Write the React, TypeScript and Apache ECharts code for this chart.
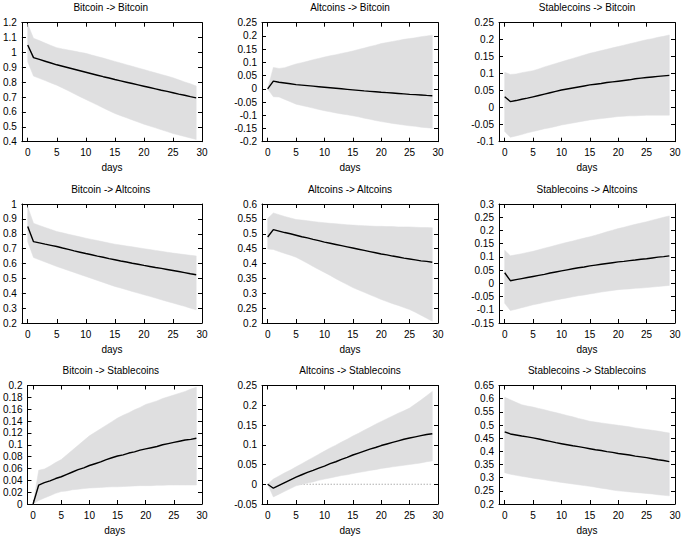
import React, { useEffect, useRef } from "react";
import * as echarts from "echarts";

const days = Array.from({ length: 30 }, (_, i) => i);
const xTickValues = [0, 5, 10, 15, 20, 25, 30];

const titles = [
  "Bitcoin -> Bitcoin", "Altcoins -> Bitcoin", "Stablecoins -> Bitcoin",
  "Bitcoin -> Altcoins", "Altcoins -> Altcoins", "Stablecoins -> Altcoins",
  "Bitcoin -> Stablecoins", "Altcoins -> Stablecoins", "Stablecoins -> Stablecoins",
];
const yMins = [0.4, -0.2, -0.1, 0.2, 0.2, -0.15, 0, -0.05, 0.2];
const yMaxs = [1.2, 0.25, 0.25, 1.0, 0.6, 0.3, 0.2, 0.25, 0.65];
const yIntervals = [0.1, 0.05, 0.05, 0.1, 0.05, 0.05, 0.02, 0.05, 0.05];

// Bitcoin -> Bitcoin
const btcBtcIrf = [1.05, 0.965, 0.953, 0.941, 0.929, 0.917, 0.907, 0.897, 0.887, 0.877, 0.867, 0.857, 0.847, 0.837, 0.828, 0.818, 0.809, 0.8, 0.791, 0.782, 0.773, 0.764, 0.755, 0.746, 0.738, 0.729, 0.72, 0.712, 0.703, 0.695];
const btcBtcUpper = [1.19, 1.095, 1.08, 1.063, 1.047, 1.032, 1.024, 1.016, 1.009, 1.001, 0.994, 0.983, 0.972, 0.962, 0.951, 0.94, 0.929, 0.918, 0.907, 0.896, 0.885, 0.874, 0.863, 0.852, 0.841, 0.83, 0.816, 0.802, 0.789, 0.775];
const btcBtcLower = [0.937, 0.841, 0.826, 0.811, 0.795, 0.78, 0.761, 0.742, 0.722, 0.703, 0.684, 0.665, 0.646, 0.627, 0.608, 0.59, 0.575, 0.561, 0.546, 0.532, 0.518, 0.505, 0.493, 0.48, 0.468, 0.455, 0.445, 0.435, 0.425, 0.415];

// Altcoins -> Bitcoin
const altBtcIrf = [0, 0.029, 0.025, 0.022, 0.019, 0.016, 0.014, 0.012, 0.01, 0.008, 0.006, 0.004, 0.002, 0, -0.002, -0.004, -0.006, -0.008, -0.0095, -0.011, -0.013, -0.0145, -0.016, -0.0175, -0.019, -0.021, -0.022, -0.0235, -0.025, -0.026];
const altBtcUpper = [0, 0.081, 0.077, 0.08, 0.087, 0.094, 0.099, 0.104, 0.11, 0.115, 0.12, 0.125, 0.129, 0.134, 0.138, 0.143, 0.149, 0.154, 0.16, 0.165, 0.171, 0.175, 0.179, 0.183, 0.187, 0.19, 0.193, 0.197, 0.2, 0.203];
const altBtcLower = [0, -0.03, -0.031, -0.04, -0.049, -0.058, -0.063, -0.068, -0.073, -0.078, -0.083, -0.087, -0.091, -0.095, -0.098, -0.102, -0.106, -0.111, -0.115, -0.12, -0.124, -0.127, -0.131, -0.134, -0.137, -0.14, -0.142, -0.145, -0.147, -0.149];

// Stablecoins -> Bitcoin
const stbBtcIrf = [0.032, 0.018, 0.021, 0.025, 0.028, 0.032, 0.036, 0.04, 0.044, 0.048, 0.052, 0.055, 0.058, 0.061, 0.064, 0.067, 0.069, 0.071, 0.074, 0.076, 0.078, 0.08, 0.082, 0.085, 0.087, 0.089, 0.0905, 0.092, 0.0935, 0.095];
const stbBtcUpper = [0.104, 0.098, 0.099, 0.103, 0.106, 0.109, 0.114, 0.12, 0.125, 0.13, 0.135, 0.14, 0.145, 0.15, 0.155, 0.16, 0.164, 0.168, 0.172, 0.176, 0.18, 0.184, 0.188, 0.192, 0.196, 0.2, 0.203, 0.207, 0.21, 0.214];
const stbBtcLower = [-0.07, -0.087, -0.083, -0.079, -0.074, -0.07, -0.066, -0.062, -0.059, -0.055, -0.051, -0.048, -0.045, -0.042, -0.039, -0.036, -0.034, -0.032, -0.03, -0.028, -0.026, -0.025, -0.024, -0.024, -0.023, -0.022, -0.022, -0.022, -0.022, -0.022];

// Bitcoin -> Altcoins
const btcAltIrf = [0.848, 0.747, 0.739, 0.73, 0.722, 0.714, 0.704, 0.695, 0.685, 0.676, 0.667, 0.659, 0.65, 0.642, 0.633, 0.625, 0.617, 0.61, 0.602, 0.595, 0.587, 0.58, 0.573, 0.567, 0.56, 0.553, 0.546, 0.539, 0.531, 0.524];
const btcAltUpper = [0.982, 0.87, 0.856, 0.842, 0.829, 0.815, 0.806, 0.797, 0.788, 0.779, 0.77, 0.762, 0.754, 0.746, 0.738, 0.73, 0.724, 0.718, 0.712, 0.706, 0.7, 0.694, 0.688, 0.682, 0.676, 0.67, 0.665, 0.66, 0.655, 0.651];
const btcAltLower = [0.747, 0.64, 0.625, 0.61, 0.595, 0.58, 0.567, 0.553, 0.54, 0.526, 0.513, 0.5, 0.486, 0.473, 0.459, 0.446, 0.435, 0.424, 0.412, 0.401, 0.39, 0.379, 0.368, 0.356, 0.345, 0.334, 0.323, 0.312, 0.3, 0.289];

// Altcoins -> Altcoins
const altAltIrf = [0.489, 0.514, 0.509, 0.504, 0.5, 0.495, 0.49, 0.486, 0.481, 0.477, 0.472, 0.468, 0.464, 0.46, 0.456, 0.452, 0.448, 0.444, 0.44, 0.436, 0.432, 0.429, 0.425, 0.422, 0.418, 0.415, 0.412, 0.409, 0.407, 0.404];
const altAltUpper = [0.551, 0.57, 0.564, 0.558, 0.553, 0.548, 0.546, 0.544, 0.541, 0.539, 0.537, 0.535, 0.534, 0.532, 0.53, 0.529, 0.528, 0.527, 0.526, 0.525, 0.525, 0.524, 0.524, 0.523, 0.523, 0.523, 0.522, 0.521, 0.521, 0.52];
const altAltLower = [0.449, 0.447, 0.44, 0.434, 0.428, 0.421, 0.411, 0.401, 0.39, 0.38, 0.37, 0.36, 0.349, 0.339, 0.329, 0.319, 0.311, 0.303, 0.295, 0.287, 0.279, 0.272, 0.265, 0.259, 0.252, 0.245, 0.236, 0.226, 0.216, 0.206];

// Stablecoins -> Altcoins
const stbAltIrf = [0.04, 0.01, 0.014, 0.018, 0.022, 0.026, 0.03, 0.034, 0.039, 0.043, 0.047, 0.051, 0.055, 0.059, 0.062, 0.066, 0.069, 0.072, 0.075, 0.078, 0.081, 0.083, 0.086, 0.088, 0.091, 0.093, 0.096, 0.099, 0.101, 0.104];
const stbAltUpper = [0.125, 0.104, 0.108, 0.112, 0.117, 0.121, 0.127, 0.133, 0.138, 0.144, 0.15, 0.155, 0.16, 0.166, 0.171, 0.176, 0.182, 0.188, 0.195, 0.201, 0.207, 0.212, 0.218, 0.223, 0.228, 0.233, 0.239, 0.244, 0.25, 0.255];
const stbAltLower = [-0.075, -0.103, -0.098, -0.092, -0.087, -0.081, -0.077, -0.072, -0.068, -0.063, -0.059, -0.055, -0.051, -0.047, -0.044, -0.04, -0.037, -0.033, -0.03, -0.027, -0.024, -0.022, -0.021, -0.019, -0.018, -0.016, -0.014, -0.012, -0.01, -0.008];

// Bitcoin -> Stablecoins
const btcStbIrf = [0, 0.032, 0.036, 0.039, 0.043, 0.046, 0.05, 0.054, 0.058, 0.061, 0.065, 0.068, 0.071, 0.075, 0.078, 0.081, 0.083, 0.086, 0.088, 0.091, 0.093, 0.095, 0.097, 0.1, 0.102, 0.104, 0.106, 0.108, 0.109, 0.111];
const btcStbUpper = [0, 0.057, 0.059, 0.064, 0.07, 0.075, 0.083, 0.091, 0.099, 0.107, 0.115, 0.121, 0.127, 0.133, 0.139, 0.145, 0.15, 0.154, 0.159, 0.163, 0.168, 0.171, 0.174, 0.178, 0.181, 0.184, 0.187, 0.19, 0.194, 0.197];
const btcStbLower = [0, 0.006, 0.01, 0.014, 0.018, 0.021, 0.022, 0.024, 0.025, 0.026, 0.027, 0.0275, 0.028, 0.0285, 0.029, 0.029, 0.0295, 0.03, 0.0305, 0.031, 0.031, 0.031, 0.0315, 0.0315, 0.032, 0.032, 0.032, 0.032, 0.032, 0.032];

// Altcoins -> Stablecoins
const altStbIrf = [0, -0.01, -0.003, 0.004, 0.011, 0.018, 0.024, 0.03, 0.035, 0.041, 0.046, 0.052, 0.057, 0.063, 0.068, 0.074, 0.079, 0.084, 0.089, 0.093, 0.098, 0.102, 0.106, 0.11, 0.114, 0.117, 0.12, 0.123, 0.126, 0.128];
const altStbUpper = [0, 0.013, 0.021, 0.029, 0.036, 0.044, 0.052, 0.06, 0.068, 0.076, 0.084, 0.092, 0.099, 0.107, 0.114, 0.122, 0.129, 0.137, 0.144, 0.152, 0.159, 0.166, 0.173, 0.18, 0.186, 0.193, 0.203, 0.213, 0.224, 0.235];
const altStbLower = [0, -0.032, -0.025, -0.018, -0.011, -0.004, -0.0005, 0.003, 0.006, 0.01, 0.013, 0.016, 0.019, 0.022, 0.024, 0.027, 0.03, 0.032, 0.035, 0.037, 0.04, 0.042, 0.044, 0.046, 0.048, 0.05, 0.052, 0.054, 0.057, 0.059];

// Stablecoins -> Stablecoins
const stbStbIrf = [0.474, 0.466, 0.462, 0.458, 0.455, 0.451, 0.447, 0.442, 0.438, 0.433, 0.429, 0.425, 0.421, 0.418, 0.414, 0.41, 0.406, 0.403, 0.399, 0.396, 0.392, 0.389, 0.386, 0.382, 0.379, 0.376, 0.372, 0.368, 0.365, 0.361];
const stbStbUpper = [0.605, 0.596, 0.586, 0.577, 0.572, 0.568, 0.563, 0.558, 0.552, 0.547, 0.542, 0.536, 0.531, 0.525, 0.52, 0.514, 0.511, 0.508, 0.505, 0.502, 0.499, 0.496, 0.493, 0.489, 0.486, 0.483, 0.48, 0.477, 0.473, 0.47];
const stbStbLower = [0.319, 0.313, 0.309, 0.305, 0.302, 0.298, 0.295, 0.292, 0.288, 0.285, 0.282, 0.279, 0.276, 0.273, 0.27, 0.267, 0.264, 0.26, 0.257, 0.253, 0.25, 0.248, 0.246, 0.244, 0.242, 0.24, 0.238, 0.235, 0.233, 0.231];

const irfs = [btcBtcIrf, altBtcIrf, stbBtcIrf, btcAltIrf, altAltIrf, stbAltIrf, btcStbIrf, altStbIrf, stbStbIrf];
const uppers = [btcBtcUpper, altBtcUpper, stbBtcUpper, btcAltUpper, altAltUpper, stbAltUpper, btcStbUpper, altStbUpper, stbStbUpper];
const lowers = [btcBtcLower, altBtcLower, stbBtcLower, btcAltLower, altAltLower, stbAltLower, btcStbLower, altStbLower, stbStbLower];

const colLeft = [19.5, 262, 499];
const colWidth = [182.5, 176, 176];
const rowTop = [22.7, 204, 385.5];
const rowHeight = 119;

const FONT = "'Liberation Sans', Arial, Helvetica, sans-serif";
const BAND = "#dfdfe0";

export default function App() {
  const ref = useRef<HTMLDivElement>(null);
  useEffect(() => {
    const chart = echarts.init(ref.current!, null, { renderer: "svg" });
    const grid: any[] = [];
    const xAxis: any[] = [];
    const yAxis: any[] = [];
    const series: any[] = [];
    const graphic: any[] = [];
    const axisLine = { show: true, onZero: false, lineStyle: { color: "#000", width: 1 } };
    for (let i = 0; i < 9; i++) {
      const r = Math.floor(i / 3);
      const c = i % 3;
      grid.push({ left: colLeft[c], top: rowTop[r], width: colWidth[c], height: rowHeight });
      xAxis.push({
        type: "value", gridIndex: i, position: "bottom", min: -1, max: 30,
        axisLine, splitLine: { show: false },
        axisTick: { show: true, inside: true, length: 4, customValues: xTickValues, lineStyle: { color: "#000" } },
        axisLabel: { customValues: xTickValues, fontSize: 10, color: "#000", margin: 6, fontFamily: FONT },
        name: "days", nameLocation: "middle", nameGap: 21,
        nameTextStyle: { fontSize: 10, color: "#000", fontFamily: FONT },
      });
      xAxis.push({
        type: "value", gridIndex: i, position: "top", min: -1, max: 30,
        axisLine, splitLine: { show: false },
        axisTick: { show: true, inside: true, length: 4, customValues: xTickValues, lineStyle: { color: "#000" } },
        axisLabel: { show: false },
      });
      yAxis.push({
        type: "value", gridIndex: i, position: "left", min: yMins[i], max: yMaxs[i], interval: yIntervals[i],
        axisLine, splitLine: { show: false },
        axisTick: { show: true, inside: true, length: 4, lineStyle: { color: "#000" } },
        axisLabel: { fontSize: 10, color: "#000", margin: 5, fontFamily: FONT },
      });
      yAxis.push({
        type: "value", gridIndex: i, position: "right", min: yMins[i], max: yMaxs[i], interval: yIntervals[i],
        axisLine, splitLine: { show: false },
        axisTick: { show: true, inside: true, length: 4, lineStyle: { color: "#000" } },
        axisLabel: { show: false },
      });
      const up = uppers[i];
      const lo = lowers[i];
      if (yMins[i] < 0 && yMaxs[i] > 0) {
        series.push({
          type: "line", xAxisIndex: 2 * i, yAxisIndex: 2 * i, symbol: "none", silent: true,
          data: days.map((d) => [d, 0]), z: 1,
          lineStyle: { color: "#888", width: 1, type: [1, 2] },
        });
      }
      series.push({
        type: "custom", xAxisIndex: 2 * i, yAxisIndex: 2 * i, silent: true, z: 2,
        data: [[0, 0]],
        renderItem: (_p: any, api: any) => {
          const pts: number[][] = [];
          days.forEach((d) => pts.push(api.coord([d, up[d]])));
          for (let k = days.length - 1; k >= 0; k--) pts.push(api.coord([days[k], lo[days[k]]]));
          return { type: "polygon", shape: { points: pts }, style: { fill: BAND, stroke: BAND, lineWidth: 0.5 } };
        },
      });
      series.push({
        type: "line", xAxisIndex: 2 * i, yAxisIndex: 2 * i, symbol: "none", silent: true, z: 3,
        data: days.map((d) => [d, irfs[i][d]]),
        lineStyle: { color: "#000", width: 1.4 },
      });
      graphic.push({
        type: "text", x: colLeft[c] + colWidth[c] / 2, y: rowTop[r] - 15,
        style: { text: titles[i], fill: "#000", fontSize: 10, fontFamily: FONT, align: "center", verticalAlign: "middle" },
      });
    }
    chart.setOption({
      animation: false,
      backgroundColor: "#fff",
      grid, xAxis, yAxis, series, graphic,
    });
    return () => chart.dispose();
  }, []);
  return <div ref={ref} style={{ position: "absolute", left: 0, top: 0, width: 685, height: 536 }} />;
}
